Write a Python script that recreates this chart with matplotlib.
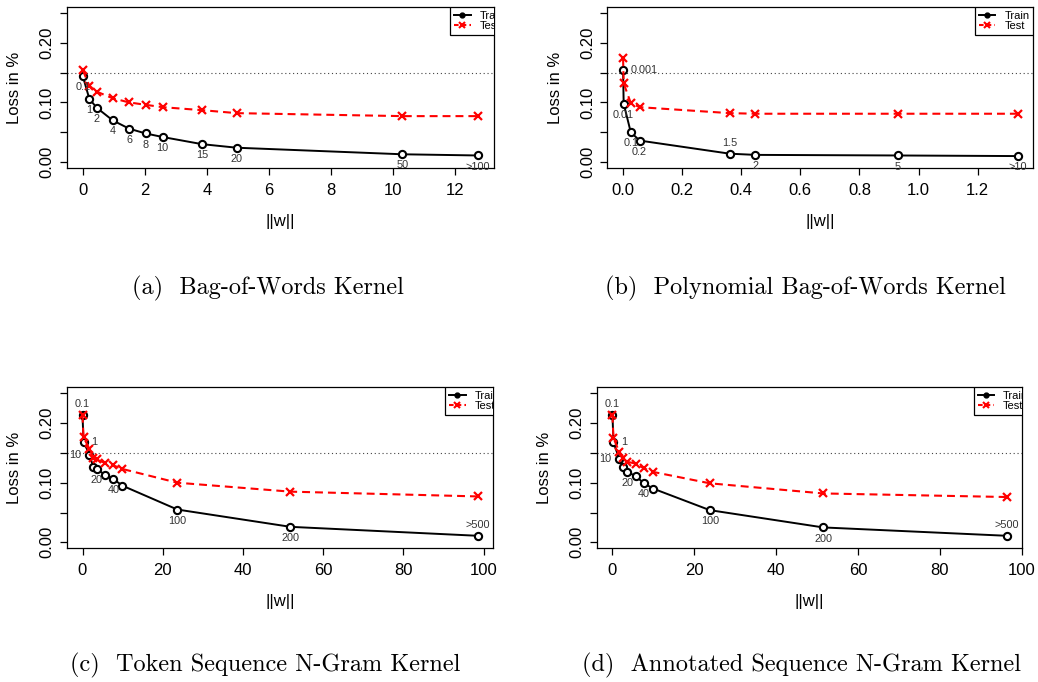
import matplotlib
matplotlib.use("Agg")
import matplotlib.pyplot as plt
from matplotlib.lines import Line2D

# ---------------- data ----------------
# (a) Bag-of-Words Kernel
a_x = [0.0, 0.21, 0.45, 0.96, 1.49, 2.02, 2.57, 3.84, 4.96, 10.30, 12.74]
a_train = [0.144, 0.106, 0.091, 0.070, 0.056, 0.048, 0.042, 0.030, 0.024, 0.013, 0.011]
a_test = [0.154, 0.128, 0.118, 0.107, 0.100, 0.096, 0.092, 0.087, 0.082, 0.077, 0.077]
a_labels = ['0.1', '1', '2', '4', '6', '8', '10', '15', '20', '50', '>100']
a_pos = [1, 1, 1, 1, 1, 1, 1, 1, 1, 1, 1]
a_xticks = [0, 2, 4, 6, 8, 10, 12]
a_xticklabels = ['0', '2', '4', '6', '8', '10', '12']

# (b) Polynomial Bag-of-Words Kernel
b_x = [0.0, 0.002, 0.026, 0.056, 0.361, 0.448, 0.931, 1.335]
b_train = [0.154, 0.098, 0.050, 0.036, 0.014, 0.012, 0.011, 0.010]
b_test = [0.174, 0.132, 0.099, 0.092, 0.082, 0.081, 0.081, 0.081]
b_labels = ['0.001', '0.01', '0.1', '0.2', '1.5', '2', '5', '>10']
b_pos = [4, 1, 1, 1, 3, 1, 1, 1]
b_xticks = [0.0, 0.2, 0.4, 0.6, 0.8, 1.0, 1.2]
b_xticklabels = ['0.0', '0.2', '0.4', '0.6', '0.8', '1.0', '1.2']

# (c) Token Sequence N-Gram Kernel
c_x = [0.0, 0.25, 1.74, 2.66, 3.57, 5.64, 7.72, 9.96, 23.65, 51.86, 98.5]
c_train = [0.214, 0.169, 0.147, 0.127, 0.123, 0.113, 0.106, 0.095, 0.055, 0.026, 0.011]
c_test = [0.214, 0.176, 0.157, 0.142, 0.139, 0.133, 0.129, 0.123, 0.100, 0.085, 0.077]
c_labels = ['0.1', '1', '10', '', '20', '', '40', '', '100', '200', '>500']
c_pos = [3, 4, 2, 0, 1, 0, 1, 0, 1, 1, 3]
c_xticks = [0, 20, 40, 60, 80, 100]
c_xticklabels = ['0', '20', '40', '60', '80', '100']

# (d) Annotated Sequence N-Gram Kernel
d_x = [0.0, 0.24, 1.70, 2.68, 3.65, 5.68, 7.71, 9.98, 23.78, 51.5, 96.3]
d_train = [0.214, 0.168, 0.139, 0.126, 0.118, 0.111, 0.099, 0.090, 0.054, 0.025, 0.011]
d_test = [0.214, 0.175, 0.151, 0.142, 0.135, 0.132, 0.124, 0.118, 0.099, 0.082, 0.076]
d_labels = ['0.1', '1', '10', '', '20', '', '40', '', '100', '200', '>500']
d_pos = [3, 4, 2, 0, 1, 0, 1, 0, 1, 1, 3]
d_xticks = [0, 20, 40, 60, 80, 100]
d_xticklabels = ['0', '20', '40', '60', '80', '100']

yticks = [0.00, 0.05, 0.10, 0.15, 0.20, 0.25]
yticklabels = ['0.00', '', '0.10', '', '0.20', '']
baseline = 0.15
series_names = ['Train', 'Test']
captions = ['(a)  Bag-of-Words Kernel', '(b)  Polynomial Bag-of-Words Kernel',
            '(c)  Token Sequence N-Gram Kernel', '(d)  Annotated Sequence N-Gram Kernel']

# ---------------- style ----------------
plt.rcParams['font.family'] = ['Liberation Sans', 'DejaVu Sans']
W, H = 1038, 682
fig = plt.figure(figsize=(W / 100, H / 100), dpi=100)

LBL_COLOR = '#333333'
offsets = {1: (0, -8, 'center', 'center'), 3: (0, 7.8, 'center', 'center'),
           2: (-6, 0, 'right', 'center'), 4: (5.5, 0, 'left', 'center')}


def make_axes(l, r, t, b):
    return fig.add_axes([l / W, 1 - b / H, (r - l) / W, (b - t) / H])


def panel(ax, x, train, test, labels, pos, xticks, xticklabels, leg_extra):
    ax.axhline(baseline, color='#444444', lw=0.8, ls=(0, (1, 2.5)), zorder=1)
    ax.plot(x, train, color='black', lw=1.4, marker='o', ms=5.2, mfc='white',
            mec='black', mew=1.5, zorder=3)
    ax.plot(x, test, color='red', lw=1.5, dashes=(3.8, 2.4), marker='x', ms=5.5,
            mec='red', mew=1.6, zorder=4)
    for xi, yi, lab, p in zip(x, train, labels, pos):
        if not lab:
            continue
        dx, dy, ha, va = offsets[p]
        t = ax.annotate(lab, (xi, yi), xytext=(dx, dy), textcoords='offset points',
                        ha=ha, va=va, fontsize=7.8, color=LBL_COLOR, zorder=5)
        t.set_clip_on(True)
    xr = max(x) - min(x)
    ax.set_xlim(min(x) - 0.04 * xr, max(x) + 0.04 * xr)
    ax.set_ylim(-0.01, 0.26)
    ax.set_xticks(xticks)
    ax.set_xticklabels(xticklabels)
    ax.set_yticks(yticks)
    ax.set_yticklabels(yticklabels, rotation=90, va='center')
    ax.tick_params(axis='both', direction='out', length=4.8, width=0.9,
                   labelsize=12, color='black')
    ax.tick_params(axis='x', pad=6.0)
    ax.tick_params(axis='y', pad=4.0)
    for s in ax.spines.values():
        s.set_linewidth(0.9)
    ax.text(-0.122, 0.5, 'Loss in %', transform=ax.transAxes, rotation=90,
            ha='center', va='center', fontsize=12)
    ax.text(0.5, -0.33, '||w||', transform=ax.transAxes, ha='center',
            va='center', fontsize=12)
    handles = [Line2D([], [], color='black', lw=1.4, marker='o', ms=3.5, mfc='black'),
               Line2D([], [], color='red', lw=1.5, dashes=(2.2, 1.5), marker='x',
                      ms=4, mew=1.5)]
    leg = ax.legend(handles, series_names, loc='upper right',
                    bbox_to_anchor=(1 + leg_extra, 1.0), borderaxespad=0,
                    fontsize=8, frameon=True, fancybox=False, edgecolor='black',
                    framealpha=1, handlelength=1.5, handletextpad=0.8,
                    labelspacing=0.0, borderpad=0.35)
    leg.get_frame().set_linewidth(0.9)
    leg.set_zorder(10)
    for a in leg.findobj():
        a.set_clip_on(True)
        a.set_clip_box(ax.bbox)


axa = make_axes(67, 494, 7, 168)
axb = make_axes(607.3, 1033.3, 7, 168)
axc = make_axes(66.7, 493.3, 387.3, 548.3)
axd = make_axes(596.7, 1022.3, 387.3, 548.3)

panel(axa, a_x, a_train, a_test, a_labels, a_pos, a_xticks, a_xticklabels, 0.0344)
panel(axb, b_x, b_train, b_test, b_labels, b_pos, b_xticks, b_xticklabels, 0.0)
panel(axc, c_x, c_train, c_test, c_labels, c_pos, c_xticks, c_xticklabels, 0.024)
panel(axd, d_x, d_train, d_test, d_labels, d_pos, d_xticks, d_xticklabels, 0.023)

cap_font = ['cmr10', 'DejaVu Serif']
for (cx, cy), cap in zip([(268, 288), (805, 288), (265, 665), (802, 665)], captions):
    fig.text(cx / W, 1 - cy / H, cap, ha='center', va='center', fontsize=17.5,
             family=cap_font)

fig.savefig('out.png', dpi=100)
